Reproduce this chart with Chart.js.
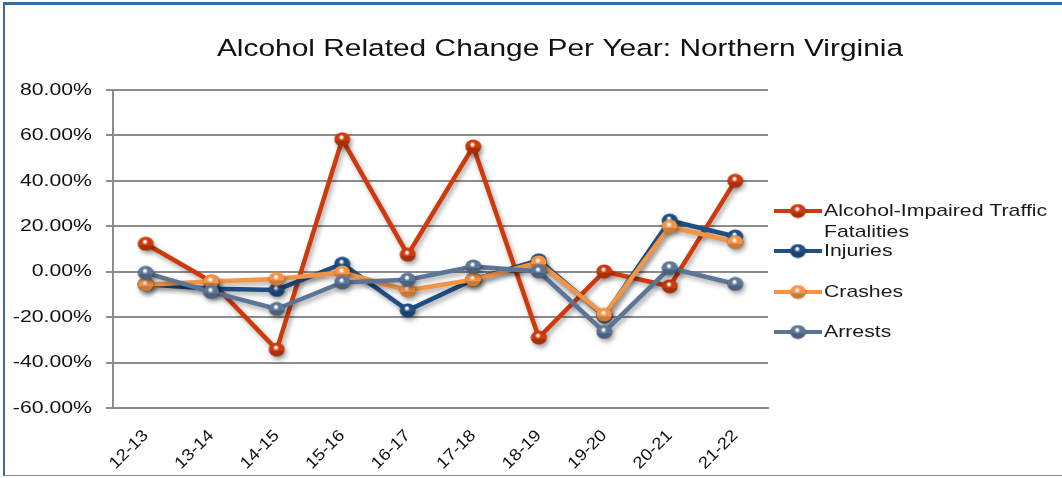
<!DOCTYPE html>
<html>
<head>
<meta charset="utf-8">
<script src="https://cdn.jsdelivr.net/npm/chart.js@4.4.1/dist/chart.umd.min.js"></script>
<style>
  html, body { margin: 0; padding: 0; background: #fff; }
  #wrap { position: relative; width: 1062px; height: 478px; }
  #frame { position: absolute; left: 3px; top: 2px; width: 1059px; height: 474px;
           border-top: 3px solid #3a6c9f; border-left: 2px solid #3a6c9f; border-bottom: 1px solid #8a8a8a;
           box-sizing: border-box; pointer-events: none; }
  canvas { position: absolute; left: 0; top: 0; }
</style>
</head>
<body>
<div id="wrap">
  <canvas id="c" width="1062" height="478"></canvas>
  <div id="frame"></div>
</div>
<script>
const chartTitle = 'Alcohol Related Change Per Year: Northern Virginia';
const categories = ['12-13','13-14','14-15','15-16','16-17','17-18','18-19','19-20','20-21','21-22'];
const seriesNames = ['Alcohol-Impaired Traffic Fatalities', 'Injuries', 'Crashes', 'Arrests'];
const fatalities = [12.3, -4.3, -34.3, 58.3, 7.5, 55.1, -29.0, 0.1, -6.4, 40.0];
const injuries   = [-5.5, -7.5, -8.0, 3.5, -17.0, -3.5, 5.0, -19.5, 22.5, 15.5];
const crashes    = [-5.7, -4.3, -3.2, -0.3, -8.2, -3.5, 4.1, -19.0, 19.9, 13.0];
const arrests    = [-0.5, -8.9, -16.4, -4.7, -3.5, 2.3, 0.1, -26.5, 1.6, -5.4];
const yTicks = [-60, -40, -20, 0, 20, 40, 60, 80];
const colors = ['#cf3a0c', '#1f4f82', '#f59444', '#5b7596'];

// Horizontally stretched text (reference text is widened); triggered by marker family names.
const origFill = CanvasRenderingContext2D.prototype.fillText;
CanvasRenderingContext2D.prototype.fillText = function (t, x, y, mw) {
  let s = 1;
  if (this.font.indexOf('WideA') >= 0) s = 1.25;
  else if (this.font.indexOf('WideB') >= 0) s = 1.12;
  else if (this.font.indexOf('WideT') >= 0) s = 1.22;
  if (s !== 1) {
    this.save();
    this.translate(x, y);
    this.scale(s, 1);
    origFill.call(this, t, 0, 0);
    this.restore();
  } else {
    origFill.call(this, t, x, y, mw);
  }
};

function sphere(hex) {
  const w = 17, h = 15;
  const c = document.createElement('canvas');
  c.width = w; c.height = h;
  const x = c.getContext('2d');
  const g = x.createRadialGradient(w*0.45, h*0.35, 1, w/2, h/2, w/2);
  g.addColorStop(0, '#ffffff');
  g.addColorStop(0.25, hex);
  g.addColorStop(0.85, hex);
  g.addColorStop(1, 'rgba(0,0,0,0.55)');
  x.fillStyle = g;
  x.beginPath();
  x.ellipse(w/2, h/2, w/2 - 0.5, h/2 - 0.5, 0, 0, Math.PI*2);
  x.fill();
  x.globalCompositeOperation = 'source-atop';
  x.fillStyle = 'rgba(0,0,0,0.18)';
  x.fillRect(0, h*0.6, w, h);
  return c;
}
const spheres = colors.map(sphere);
const allData = [fatalities, injuries, crashes, arrests];

const shadowPlugin = {
  id: 'shadow',
  beforeDatasetDraw(chart) {
    const ctx = chart.ctx;
    ctx.save();
    ctx.shadowColor = 'rgba(0,0,0,0.35)';
    ctx.shadowBlur = 5;
    ctx.shadowOffsetX = 2;
    ctx.shadowOffsetY = 3;
  },
  afterDatasetDraw(chart) { chart.ctx.restore(); }
};

const titlePlugin = {
  id: 'customTitle',
  afterDraw(chart) {
    const ctx = chart.ctx;
    ctx.save();
    ctx.font = '24.5px WideT, "Liberation Sans", Arial, sans-serif';
    ctx.fillStyle = '#111';
    ctx.textAlign = 'center';
    ctx.textBaseline = 'middle';
    ctx.fillText(chartTitle, 560, 49);
    ctx.restore();
  }
};

const legendPlugin = {
  id: 'customLegend',
  afterDraw(chart) {
    const ctx = chart.ctx;
    const x0 = chart.chartArea.right + 6;
    const rows = [211, 251, 292, 332];
    ctx.save();
    ctx.font = '17px WideA, "Liberation Sans", Arial, sans-serif';
    ctx.textBaseline = 'middle';
    chart.data.datasets.forEach((ds, i) => {
      const y = rows[i];
      ctx.strokeStyle = ds.borderColor;
      ctx.lineWidth = 4;
      ctx.beginPath();
      ctx.moveTo(x0, y); ctx.lineTo(x0 + 48, y);
      ctx.stroke();
      const img = spheres[i];
      ctx.drawImage(img, x0 + 24 - img.width/2, y - img.height/2);
      ctx.fillStyle = '#1a1a1a';
      if (i === 0) {
        ctx.fillText('Alcohol-Impaired Traffic', x0 + 50, y);
        ctx.fillText('Fatalities', x0 + 50, y + 21);
      } else {
        ctx.fillText(ds.label, x0 + 50, y);
      }
    });
    ctx.restore();
  }
};

new Chart(document.getElementById('c'), {
  type: 'line',
  data: {
    labels: categories,
    datasets: seriesNames.map((name, i) => ({
      label: name,
      data: allData[i],
      borderColor: colors[i],
      backgroundColor: colors[i],
      borderWidth: 4.5,
      tension: 0,
      pointStyle: spheres[i],
      pointRadius: 8,
      pointHoverRadius: 8,
      order: 4 - i
    }))
  },
  options: {
    responsive: false,
    animation: false,
    events: [],
    layout: { padding: { top: 90, left: 0, right: 294, bottom: 0 } },
    plugins: {
      legend: { display: false },
      title: { display: false },
      tooltip: { enabled: false }
    },
    scales: {
      x: {
        offset: true,
        grid: { display: false, drawTicks: false },
        border: { display: true, color: '#8c8c8c', width: 2 },
        ticks: {
          color: '#111',
          font: { family: 'WideB, "Liberation Sans", Arial, sans-serif', size: 16.5 },
          minRotation: 45, maxRotation: 45, padding: 18, autoSkip: false
        },
        afterFit(scale) { scale.height = 70; }
      },
      y: {
        min: -60, max: 80,
        afterBuildTicks(scale) { scale.ticks = yTicks.map(v => ({ value: v })); },
        grid: { color: '#8c8c8c', lineWidth: 2, tickLength: 7 },
        border: { display: true, color: '#8c8c8c', width: 2 },
        ticks: {
          color: '#111',
          padding: 14,
          font: { family: 'WideA, "Liberation Sans", Arial, sans-serif', size: 17 },
          callback: v => v.toFixed(2) + '%'
        },
        afterFit(scale) { scale.width = 113; }
      }
    }
  },
  plugins: [shadowPlugin, titlePlugin, legendPlugin]
});
</script>
</body>
</html>
